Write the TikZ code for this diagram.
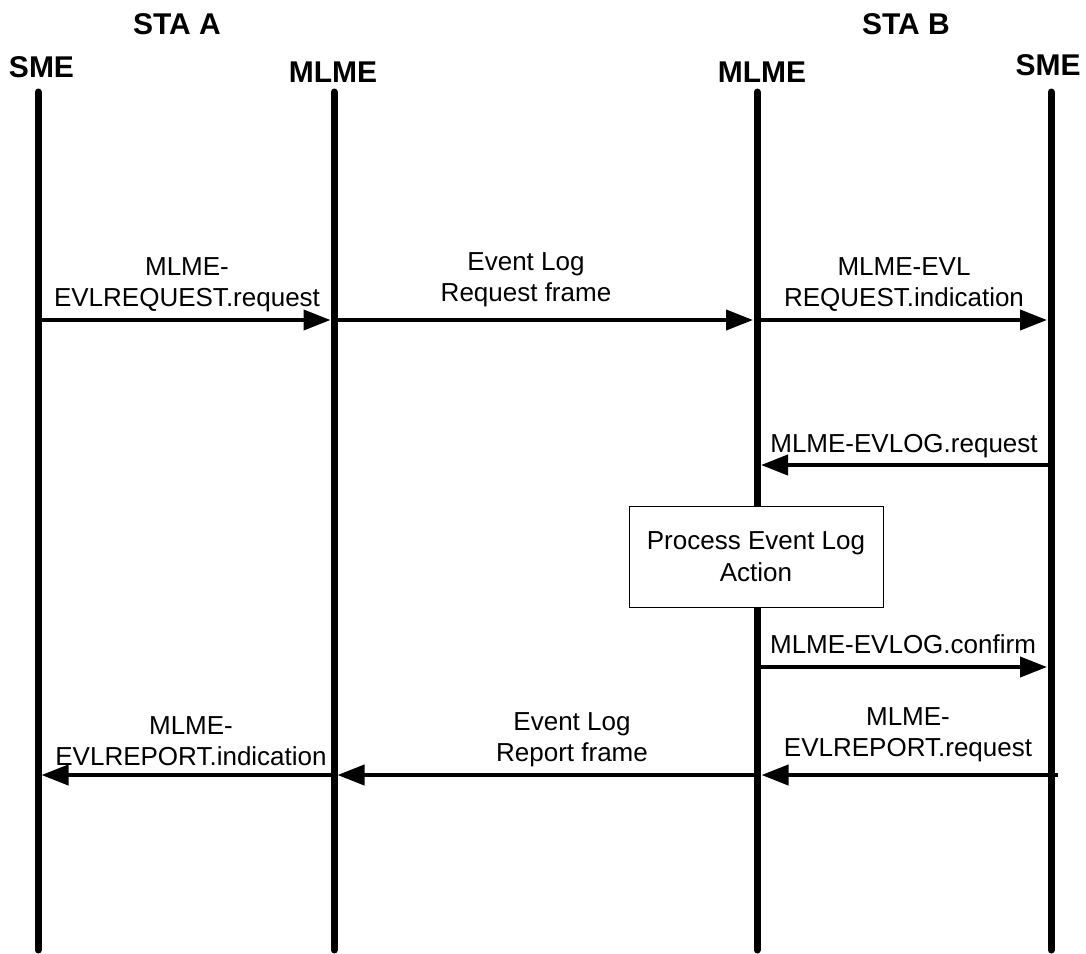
\documentclass[tikz,border=0pt]{standalone}
\usepackage{fontspec}
\setmainfont{Liberation Sans}
\usetikzlibrary{arrows.meta}
\begin{document}
\begin{tikzpicture}[x=1pt,y=-1pt,
  lifeline/.style={line width=7pt, line cap=round},
  msg/.style={line width=4pt, -{Triangle[length=27pt,width=20pt]}},
  lbl/.style={font=\fontsize{26}{31}\selectfont, align=center, inner sep=0pt, anchor=south},
  head/.style={font=\fontsize{30}{36}\selectfont\bfseries, inner sep=0pt, anchor=base},
  procbox/.style={draw, line width=1pt, fill=white, minimum width=254pt, minimum height=101pt,
    align=center, font=\fontsize{26}{32}\selectfont, inner sep=0pt}]
\useasboundingbox (0,0) rectangle (1086,953);
% lifeline ends
\coordinate (smeA) at (38,92);   \coordinate (smeAb) at (38,950);
\coordinate (mlmeA) at (334,92); \coordinate (mlmeAb) at (334,950);
\coordinate (mlmeB) at (757,92); \coordinate (mlmeBb) at (757,950);
\coordinate (smeB) at (1051,92); \coordinate (smeBb) at (1051,950);
% rows
\coordinate (r1) at (0,320);
\coordinate (r2) at (0,465);
\coordinate (r3) at (0,667);
\coordinate (r4) at (0,775);
% headings
\node[head] (staA) at (177,34) {STA A};
\node[head] (staB) at (906,34) {STA B};
\node[head] (hsmeA) at (41.5,77) {SME};
\node[head] (hmlmeA) at (333,82) {MLME};
\node[head] (hmlmeB) at (762,82) {MLME};
\node[head] (hsmeB) at (1048,75) {SME};
% lifelines
\draw[lifeline] (smeA) -- (smeAb);
\draw[lifeline] (mlmeA) -- (mlmeAb);
\draw[lifeline] (mlmeB) -- (mlmeBb);
\draw[lifeline] (smeB) -- (smeBb);
% messages
\draw[msg] (smeA |- r1) -- ([xshift=-3.5pt]mlmeA |- r1);
\draw[msg] (mlmeA |- r1) -- ([xshift=-4pt]mlmeB |- r1);
\draw[msg] (mlmeB |- r1) -- ([xshift=-4pt]smeB |- r1);
\draw[msg] (smeB |- r2) -- ([xshift=4pt]mlmeB |- r2);
\node[procbox] (proc) at (756,556.5) {Process Event Log\\Action};
\draw[msg] (mlmeB |- r3) -- ([xshift=-4pt]smeB |- r3);
\draw[msg] ([xshift=7pt]smeB |- r4) -- ([xshift=4.5pt]mlmeB |- r4);
\draw[msg] (mlmeB |- r4) -- ([xshift=3.5pt]mlmeA |- r4);
\draw[msg] (mlmeA |- r4) -- ([xshift=3.5pt]smeA |- r4);
% labels (south = last baseline + strut depth 9.3)
\node[lbl] (l1) at (187,316.3) {MLME-\\EVLREQUEST.request\strut};
\node[lbl] (l2) at (526,311.3) {Event Log\\Request frame\strut};
\node[lbl] (l3) at (904,316.3) {MLME-EVL\\REQUEST.indication\strut};
\node[lbl] (l4) at (904,462.3) {MLME-EVLOG.request\strut};
\node[lbl] (l5) at (903,663.3) {MLME-EVLOG.confirm\strut};
\node[lbl] (l6) at (191,775.3) {MLME-\\EVLREPORT.indication\strut};
\node[lbl] (l7) at (572,771.3) {Event Log\\Report frame\strut};
\node[lbl] (l8) at (908,766.3) {MLME-\\EVLREPORT.request\strut};
\end{tikzpicture}
\end{document}
